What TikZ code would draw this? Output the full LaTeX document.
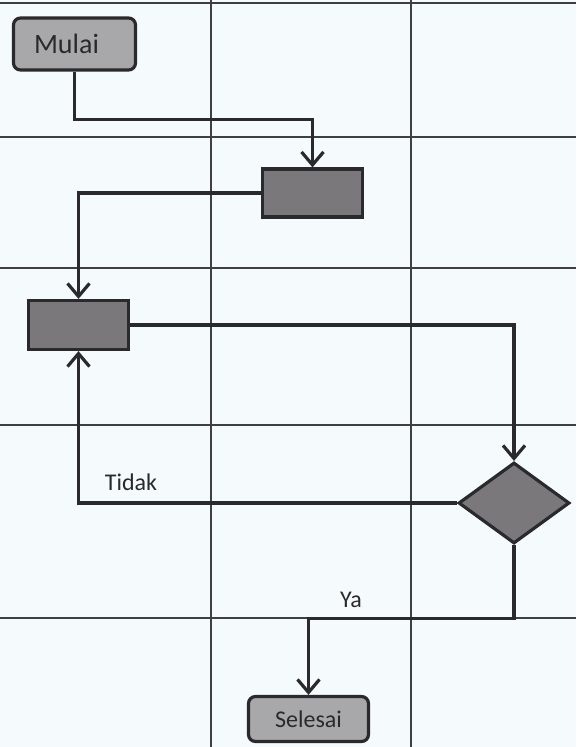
\documentclass[tikz,border=0pt]{standalone}
\usepackage{fontspec}
\setmainfont{Carlito}
\usepackage{tikz}
\usetikzlibrary{arrows.meta, positioning, shapes.geometric, calc}

\definecolor{paper}{HTML}{F5FAFD}
\definecolor{ink}{HTML}{2A2A2C}
\definecolor{darkbox}{HTML}{7A787B}
\definecolor{lightbox}{HTML}{A8A7AA}

\begin{document}
\begin{tikzpicture}[
    x             = 1pt,
    y             = -1pt,
    font          = \fontsize{24}{28}\selectfont,
    lane/.style   = {ink!90, line width=2pt},
    tn/.style     = {draw=ink, line width=3.2pt, rounded corners=7pt,
                     fill=lightbox, text=ink, inner sep=0pt},
    pn/.style     = {draw=ink, line width=3.2pt, fill=darkbox,
                     minimum width=100pt, minimum height=48pt},
    dn/.style     = {draw=ink, line width=3.2pt, fill=darkbox, diamond,
                     minimum width=111pt, minimum height=81pt, inner sep=0pt},
    arr/.style    = {-{Straight Barb[length=13pt, width=22pt]}, ink, line width=3.2pt},
  ]
  \fill[paper] (0,0) rectangle (576,747);
  \useasboundingbox (0,0) rectangle (576,747);
  % swimlane grid
  \foreach \gx in {211, 411}
    \draw[lane] (\gx,0) -- (\gx,747);
  \foreach \gy in {3, 137, 268, 425, 618}
    \draw[lane] (0,\gy) -- (576,\gy);

  \node[tn, minimum width=122pt, minimum height=52pt,
        font=\fontsize{28}{32}\selectfont] (Mulai) at (74.5,44)
        {\hspace*{-16pt}Mulai};
  \node[pn] (Proc1) at (312.5,193) {};
  \node[pn, minimum height=49pt] (Proc2) at (78.5,325) {};
  \node[dn] (Cek) at (514,503) {};
  \node[tn, minimum width=120pt, minimum height=45pt] (Selesai) at (308.5,719) {Selesai};

  \draw[arr] (Mulai.south) -- ++(0,48) -| (Proc1.north);
  \draw[arr] (Proc1.west) -| (Proc2.north);
  \draw[arr] (Proc2.east) -| (Cek.north);
  \draw[arr] (Cek.west) -| (Proc2.south);
  \draw[arr] (Cek.south) -- ++(0,73) -| (Selesai.north);
  % branch labels
  \node[text=ink] (Tidak) at (131,482) {Tidak};
  \node[text=ink] (Ya) at (351,600) {Ya};
\end{tikzpicture}
\end{document}
